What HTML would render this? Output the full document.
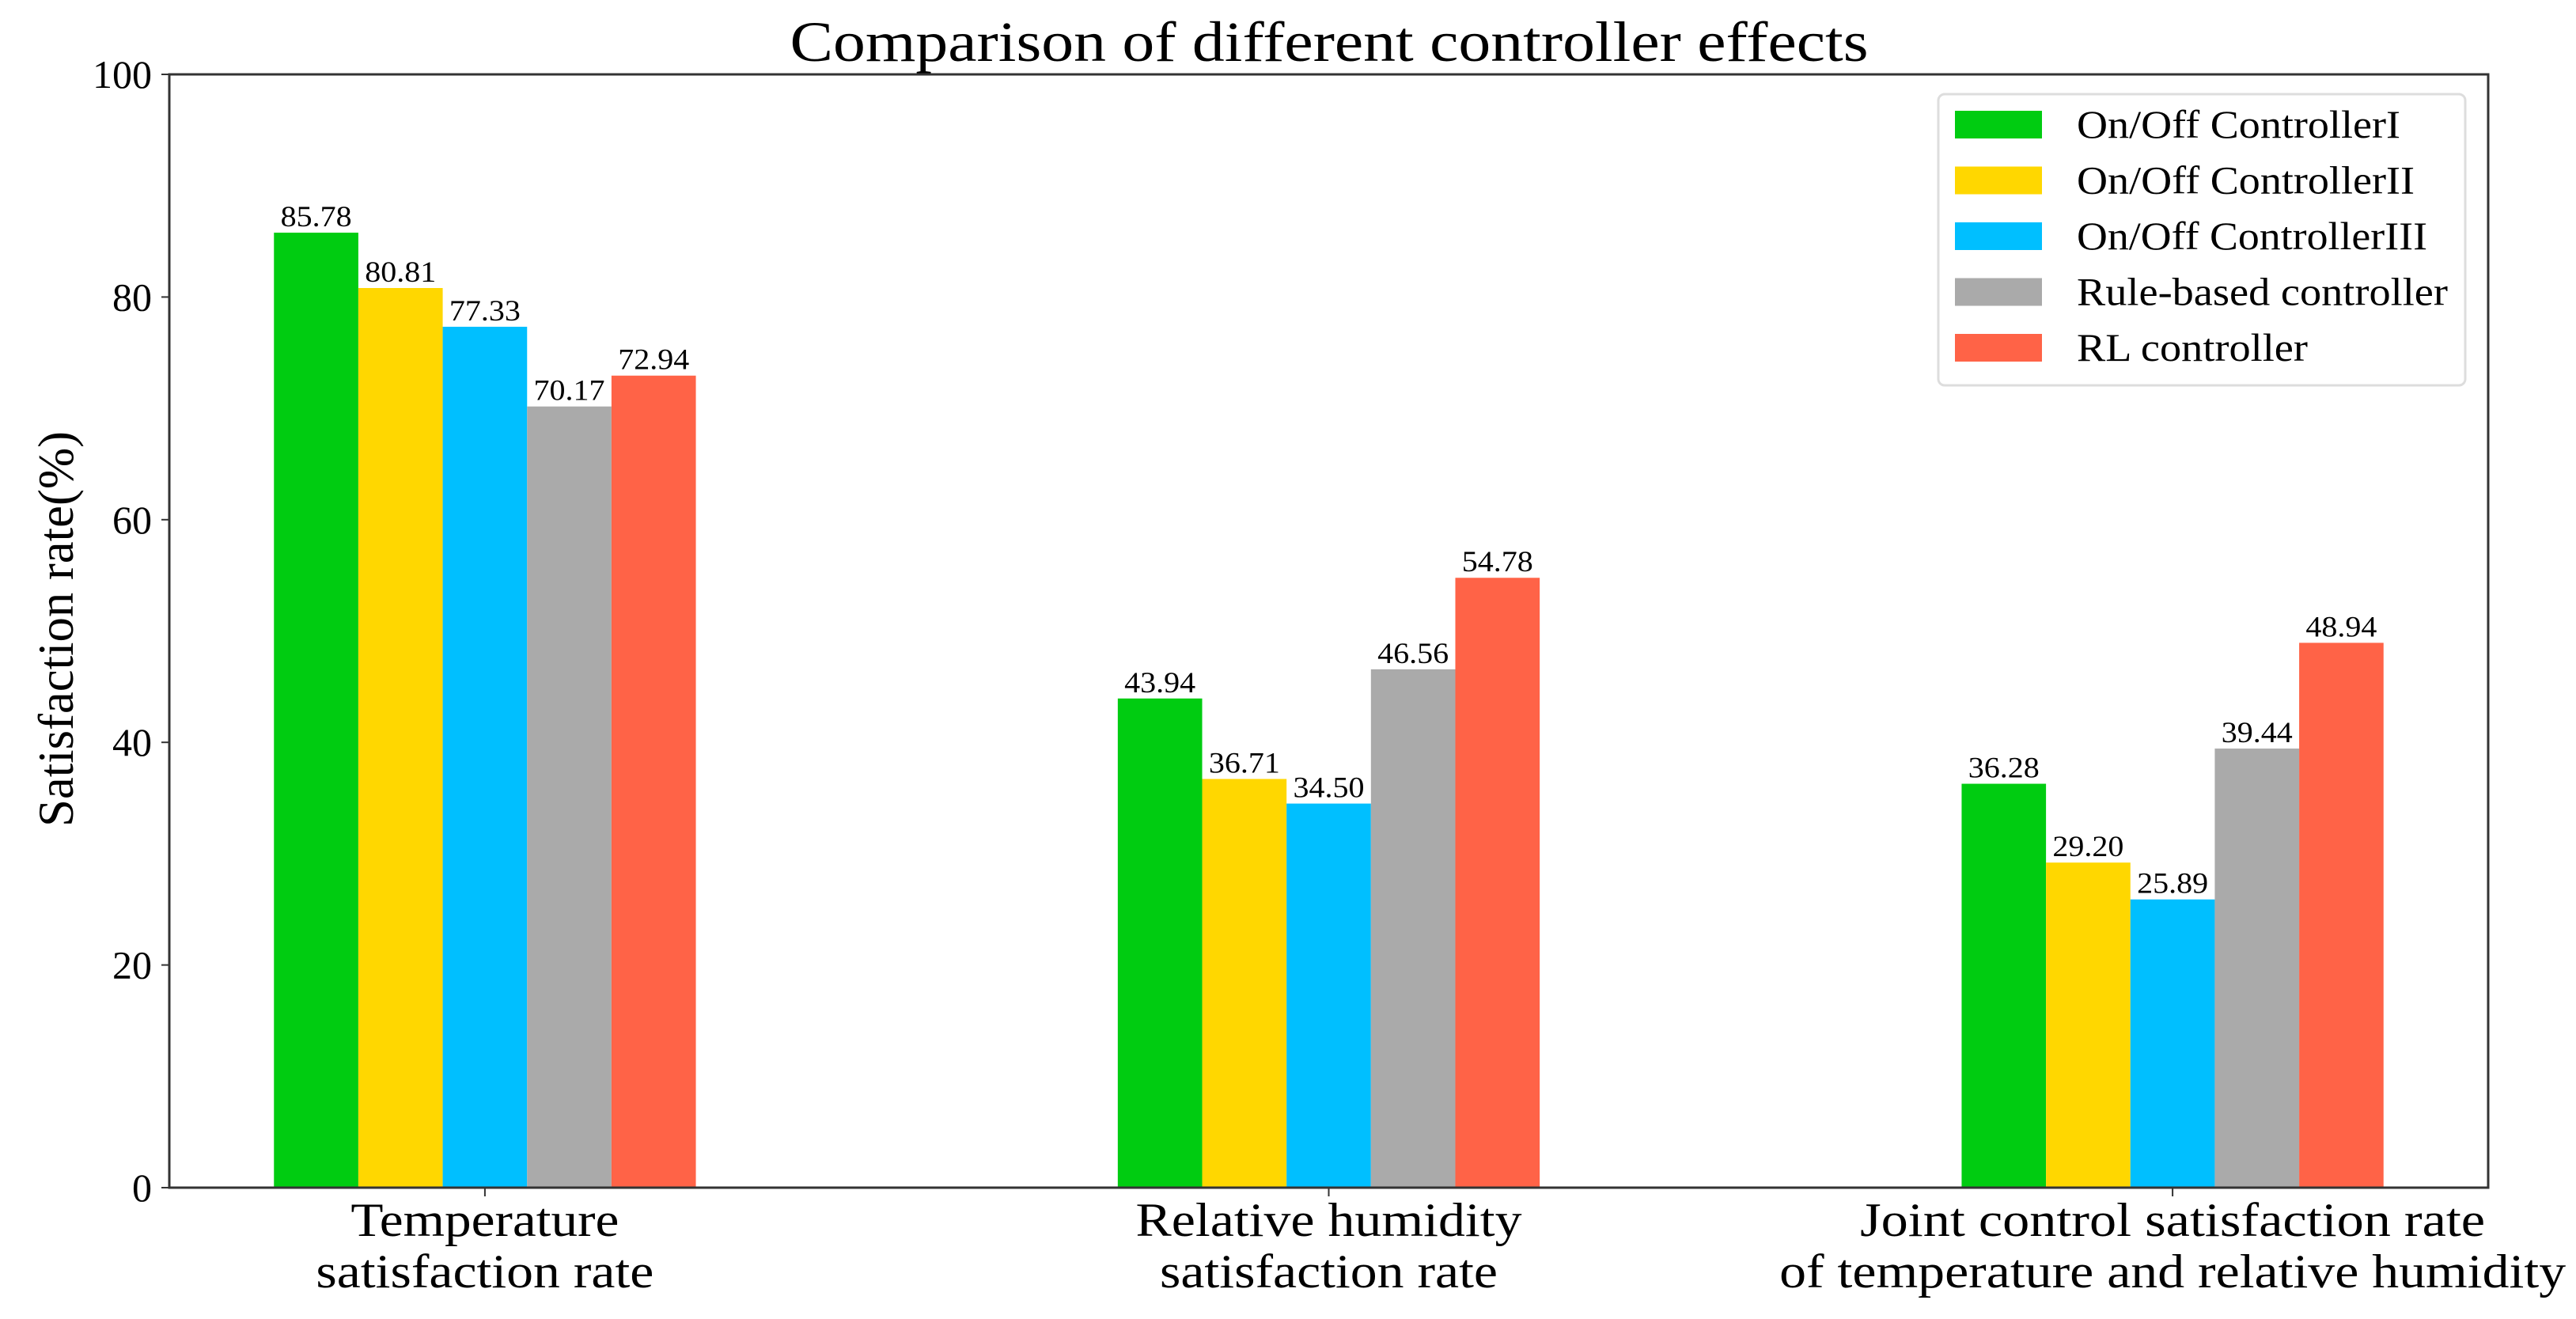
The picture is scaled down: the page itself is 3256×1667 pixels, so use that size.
<!DOCTYPE html>
<html><head><meta charset="utf-8"><style>
html,body{margin:0;padding:0;background:#fff;}
svg{display:block;}
text{font-family:"Liberation Serif","Times New Roman",serif;fill:#000;}
</style></head><body>
<svg id="chart" width="3256" height="1667" viewBox="0 0 3256 1667" xmlns="http://www.w3.org/2000/svg">
<text x="1680" y="77" font-size="72" text-anchor="middle" textLength="1363" lengthAdjust="spacingAndGlyphs">Comparison of different controller effects</text>
<text transform="translate(92,795) rotate(-90)" font-size="64" text-anchor="middle" textLength="500" lengthAdjust="spacingAndGlyphs">Satisfaction rate(%)</text>
<g id="plot"></g>
</svg>
<script>
const categories = [["Temperature","satisfaction rate"],["Relative humidity","satisfaction rate"],["Joint control satisfaction rate","of temperature and relative humidity"]];
const seriesNames = ["On/Off ControllerI","On/Off ControllerII","On/Off ControllerIII","Rule-based controller","RL controller"];
const onOff1 = [85.78, 43.94, 36.28];
const onOff2 = [80.81, 36.71, 29.20];
const onOff3 = [77.33, 34.50, 25.89];
const ruleBased = [70.17, 46.56, 39.44];
const rlCtrl = [72.94, 54.78, 48.94];
const yTicks = [0,20,40,60,80,100];

const series = [onOff1,onOff2,onOff3,ruleBased,rlCtrl];
const colors = ["#00cc11","#ffd700","#00bfff","#aaaaaa","#ff6347"];
const NS = "http://www.w3.org/2000/svg";
const L=214, R=3145, T=94, B=1501;
const barW=0.1, xmin=-0.374, xmax=2.374;
const xs = v => L + (v - xmin)/(xmax - xmin)*(R-L);
const ys = v => B - v/100*(B-T);
const plot = document.getElementById('plot');
function mk(tag, attrs, txt){const e=document.createElementNS(NS,tag);for(const k in attrs)e.setAttribute(k,attrs[k]);if(txt!==undefined)e.textContent=txt;plot.appendChild(e);return e;}

series.forEach((vals,si)=>{
  vals.forEach((v,ci)=>{
    const x0 = xs(ci + (si-2.5)*barW), x1 = xs(ci + (si-1.5)*barW);
    const r = mk('rect',{x:x0,y:ys(v),width:x1-x0,height:ys(0)-ys(v),fill:colors[si]});
    
    
    const t = mk('text',{x:(x0+x1)/2,y:ys(v)-8,'font-size':37,'text-anchor':'middle',textLength:90,lengthAdjust:'spacingAndGlyphs'}, v.toFixed(2));
    
    
  });
});
const fr = mk('rect',{x:L,y:T,width:R-L,height:B-T,fill:'none',stroke:'#333','stroke-width':3});


yTicks.forEach(v=>{
  const ln = mk('line',{x1:L-10,x2:L,y1:ys(v),y2:ys(v),stroke:'#333','stroke-width':2});
  
  
  const t = mk('text',{x:192,y:ys(v)+17,'font-size':50,'text-anchor':'end',textLength:String(v).length*25,lengthAdjust:'spacingAndGlyphs'}, String(v));
  
  
});
const lw = [[339,427],[488,427],[790,994]];
categories.forEach((c,i)=>{
  const ln = mk('line',{x1:xs(i),x2:xs(i),y1:B,y2:B+11,stroke:'#333','stroke-width':2});
  
  
  c.forEach((s,j)=>{
    const t = mk('text',{x:xs(i),y:1562+j*65,'font-size':60,'text-anchor':'middle',textLength:lw[i][j],lengthAdjust:'spacingAndGlyphs'}, s);
    
    
  });
});
const lg = mk('rect',{x:2450,y:119,width:666,height:368,rx:8,fill:'#fff',stroke:'#dddddd','stroke-width':3});


const lgw = [409,427,443,469,292];
seriesNames.forEach((n,i)=>{
  const cy = 157 + i*70.5;
  const sw = mk('rect',{x:2471,y:cy-17,width:110,height:35,fill:colors[i]});
  
  
  const t = mk('text',{x:2625,y:cy+17,'font-size':50,textLength:lgw[i],lengthAdjust:'spacingAndGlyphs'}, n);
  
  
});
</script>
</body></html>
